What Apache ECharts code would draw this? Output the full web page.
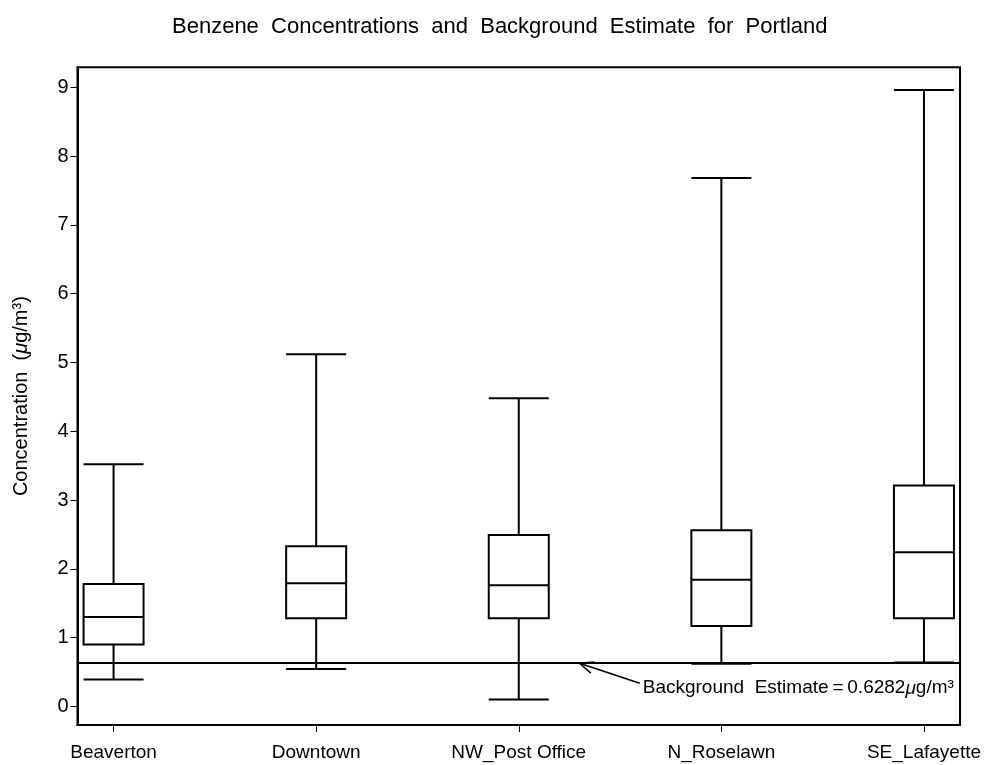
<!DOCTYPE html>
<html><head><meta charset="utf-8">
<script src="https://cdn.jsdelivr.net/npm/echarts@6/dist/echarts.min.js"></script>
<style>html,body{margin:0;padding:0;background:#fff}#c{width:984px;height:765px}</style>
</head><body><div id="c"></div>
<script>
const categories = ['Beaverton', 'Downtown', 'NW_Post Office', 'N_Roselawn', 'SE_Lafayette'];
const whiskerLow  = [0.39, 0.545, 0.10, 0.62, 0.64];
const q1          = [0.90, 1.28, 1.28, 1.17, 1.28];
const median      = [1.30, 1.79, 1.76, 1.84, 2.24];
const q3          = [1.78, 2.33, 2.49, 2.56, 3.21];
const whiskerHigh = [3.52, 5.12, 4.48, 7.68, 8.96];
const background = 0.6282;
const yTicks = [0, 1, 2, 3, 4, 5, 6, 7, 8, 9];
const xTicks = categories.map((c, i) => i + 1);

const FONT = '"Liberation Sans", Arial, sans-serif';
const chart = echarts.init(document.getElementById('c'), null, {renderer: 'canvas'});
const boxData = categories.map((c, i) => [i + 1, whiskerLow[i], q1[i], median[i], q3[i], whiskerHigh[i]]);

const option = {
  animation: false,
  backgroundColor: '#fff',
  title: {
    text: 'Benzene  Concentrations  and  Background  Estimate  for  Portland',
    left: 172, top: 16, padding: 0,
    textStyle: {fontFamily: FONT, fontSize: 22, fontWeight: 'normal', color: '#000'}
  },
  grid: {left: 77.5, right: 23.5, top: 67.3, bottom: 40, show: true, borderColor: '#000', borderWidth: 2, backgroundColor: 'transparent'},
  xAxis: {
    type: 'value', min: 0.822, max: 5.178,
    splitLine: {show: false},
    axisLine: {show: true, onZero: false, lineStyle: {color: '#000', width: 2}},
    axisTick: {show: true, length: 7, lineStyle: {color: '#000', width: 1}, customValues: xTicks},
    axisLabel: {customValues: xTicks, margin: 18, color: '#000', fontFamily: FONT, fontSize: 19,
      formatter: v => categories[Math.round(v) - 1] || ''}
  },
  yAxis: {
    type: 'value', min: -0.27, max: 9.29,
    name: 'Concentration  ({i|μ}g/m³)', nameLocation: 'middle', nameGap: 46,
    nameTextStyle: {fontFamily: FONT, fontSize: 20, color: '#000',
      rich: {i: {fontFamily: FONT, fontSize: 20, fontStyle: 'italic', color: '#000'}}},
    splitLine: {show: false},
    axisLine: {show: true, onZero: false, lineStyle: {color: '#000', width: 2}},
    axisTick: {show: true, length: 7, lineStyle: {color: '#000', width: 1}, customValues: yTicks},
    axisLabel: {customValues: yTicks, margin: 9, color: '#000', fontFamily: FONT, fontSize: 20}
  },
  series: [
    {
      type: 'custom',
      data: boxData,
      z: 3,
      renderItem: function (params, api) {
        const x = api.value(0);
        const lo = api.coord([x, api.value(1)]);
        const b1 = api.coord([x, api.value(2)]);
        const md = api.coord([x, api.value(3)]);
        const b3 = api.coord([x, api.value(4)]);
        const hi = api.coord([x, api.value(5)]);
        const h = 30;
        const st = {stroke: '#000', lineWidth: 2, fill: null};
        return {
          type: 'group',
          children: [
            {type: 'line', shape: {x1: hi[0], y1: hi[1], x2: b3[0], y2: b3[1]}, style: st},
            {type: 'line', shape: {x1: lo[0], y1: lo[1], x2: b1[0], y2: b1[1]}, style: st},
            {type: 'line', shape: {x1: hi[0] - h, y1: hi[1], x2: hi[0] + h, y2: hi[1]}, style: st},
            {type: 'line', shape: {x1: lo[0] - h, y1: lo[1], x2: lo[0] + h, y2: lo[1]}, style: st},
            {type: 'rect', shape: {x: b3[0] - h, y: b3[1], width: 2 * h, height: b1[1] - b3[1]}, style: {stroke: '#000', lineWidth: 2, fill: '#fff'}},
            {type: 'line', shape: {x1: md[0] - h, y1: md[1], x2: md[0] + h, y2: md[1]}, style: st}
          ]
        };
      },
      markLine: {
        silent: true, symbol: ['none', 'none'], label: {show: false},
        lineStyle: {color: '#000', width: 2, type: 'solid'},
        data: [{yAxis: background}]
      }
    },
    {
      type: 'custom',
      data: [[background]],
      z: 4,
      clip: false,
      renderItem: function (params, api) {
        const tip = api.coord([3.30, api.value(0)]);
        const tail = api.coord([3.597, 0.337]);
        const ang = Math.atan2(tail[1] - tip[1], tail[0] - tip[0]);
        const L = 15, a = 0.4;
        const p1 = [tip[0] + L * Math.cos(ang + a), tip[1] + L * Math.sin(ang + a)];
        const p2 = [tip[0] + L * Math.cos(ang - a), tip[1] + L * Math.sin(ang - a)];
        const st = {stroke: '#000', lineWidth: 1.5, fill: null};
        return {
          type: 'group',
          children: [
            {type: 'line', shape: {x1: tip[0], y1: tip[1], x2: tail[0], y2: tail[1]}, style: st},
            {type: 'polyline', shape: {points: [p1, tip, p2]}, style: st},
            {type: 'text', x: tail[0] + 3, y: tail[1] + 5,
              style: {
                text: '{a|Background  Estimate}{a|\u2009=\u2009}{a|0.6282}{i|μ}{a|g/m³}',
                verticalAlign: 'middle', align: 'left',
                rich: {
                  a: {fontFamily: FONT, fontSize: 19, fill: '#000'},
                  i: {fontFamily: FONT, fontSize: 19, fontStyle: 'italic', fill: '#000'}
                }
              }}
          ]
        };
      }
    }
  ]
};
chart.setOption(option);
</script>
</body></html>
